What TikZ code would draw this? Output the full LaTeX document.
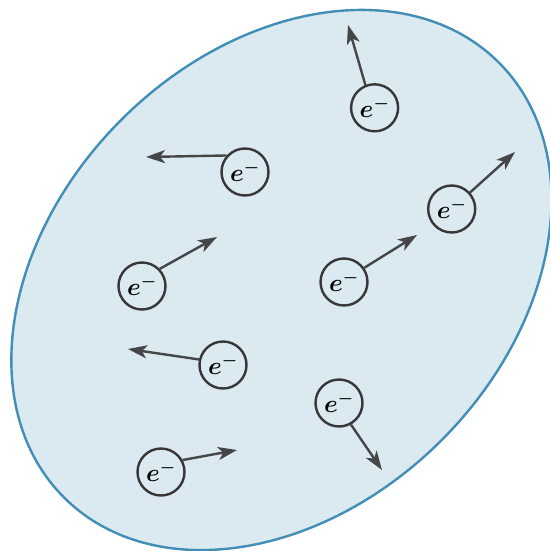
\documentclass[tikz,border=0pt]{standalone}
\usetikzlibrary{arrows.meta}
\definecolor{gasfill}{RGB}{219,233,241}
\definecolor{gasedge}{RGB}{66,142,183}
\definecolor{eline}{RGB}{55,55,55}
\definecolor{arr}{RGB}{68,70,72}
\begin{document}
\begin{tikzpicture}[x=1pt,y=-1pt,
  electron/.style={circle,draw=eline,line width=2.4pt,minimum size=47pt,inner sep=0pt,
    font=\fontsize{23}{27}\selectfont\boldmath},
  velo/.style={draw=arr,line width=2.4pt,-{Stealth[length=19pt,width=13pt,inset=5pt]}}]
\useasboundingbox (0,0) rectangle (549,551);
\draw[fill=gasfill,draw=gasedge,line width=2.4pt,rotate around={45:(280,280)}]
  (281,281) ellipse [x radius=307.5pt, y radius=226.5pt];
\node[electron] (e1) at (374.6,107.8) {$e^-$};
\node[electron] (e2) at (245,172) {$e^-$};
\node[electron] (e3) at (451.7,209) {$e^-$};
\node[electron] (e4) at (142,286) {$e^-$};
\node[electron] (e5) at (344,282) {$e^-$};
\node[electron] (e6) at (223,365) {$e^-$};
\node[electron] (e7) at (339,403) {$e^-$};
\node[electron] (e8) at (161,472) {$e^-$};
\coordinate (t1) at (348,25);
\coordinate (t2) at (146,157);
\coordinate (t3) at (515,152);
\coordinate (t4) at (217,237);
\coordinate (t5) at (417,235);
\coordinate (t6) at (128,349);
\coordinate (t7) at (382,470);
\coordinate (t8) at (237,450);
\draw[velo] (e1.112.8) -- (t1);
\draw[velo] (e2.138.2) -- (t2);
\draw[velo] (e3.42.9) -- (t3);
\draw[velo] (e4.44) -- (t4);
\draw[velo] (e5.35) -- (t5);
\draw[velo] (e6.167.7) -- (t6);
\draw[velo] (e7.-61.4) -- (t7);
\draw[velo] (e8.29.7) -- (t8);
\end{tikzpicture}
\end{document}
